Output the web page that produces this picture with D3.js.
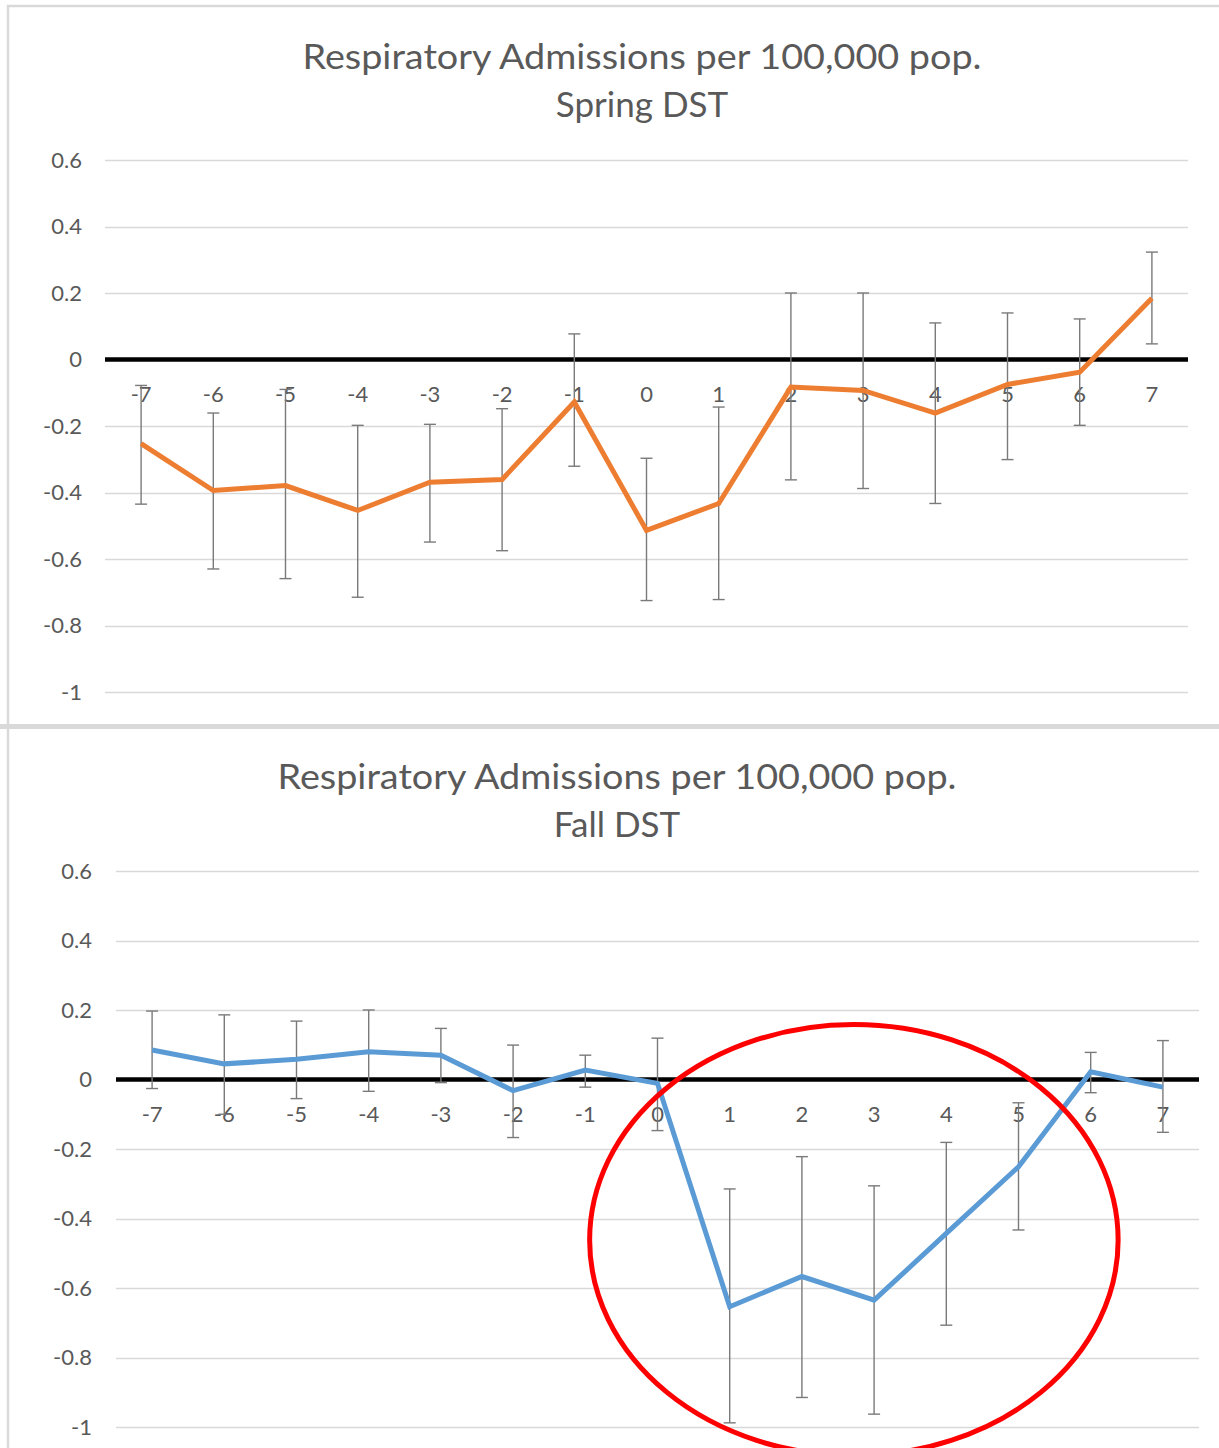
<!DOCTYPE html>
<html>
<head>
<meta charset="utf-8">
<script src="https://cdn.jsdelivr.net/npm/d3@7"></script>
<style>
  html, body { margin: 0; padding: 0; background: #fff; }
  svg { display: block; }
</style>
</head>
<body>
<svg id="chart" width="1219" height="1448"></svg>
<script>
// days relative to the DST change
const days = [-7, -6, -5, -4, -3, -2, -1, 0, 1, 2, 3, 4, 5, 6, 7]
const yTicks = [0.6, 0.4, 0.2, 0, -0.2, -0.4, -0.6, -0.8, -1]

const springMean = [-0.253, -0.394, -0.379, -0.454, -0.369, -0.361, -0.128, -0.514, -0.433, -0.083, -0.093, -0.161, -0.075, -0.038, 0.184]
const springLow = [-0.435, -0.63, -0.659, -0.715, -0.549, -0.575, -0.321, -0.725, -0.722, -0.362, -0.388, -0.433, -0.301, -0.198, 0.047]
const springHigh = [-0.078, -0.161, -0.09, -0.198, -0.195, -0.148, 0.077, -0.297, -0.143, 0.2, 0.2, 0.11, 0.14, 0.122, 0.323]

const fallMean = [0.085, 0.045, 0.058, 0.08, 0.07, -0.032, 0.027, -0.011, -0.654, -0.567, -0.635, -0.443, -0.251, 0.022, -0.022]
const fallLow = [-0.026, -0.1, -0.055, -0.034, -0.009, -0.167, -0.022, -0.147, -0.988, -0.915, -0.963, -0.707, -0.433, -0.038, -0.152]
const fallHigh = [0.197, 0.186, 0.168, 0.2, 0.147, 0.099, 0.07, 0.119, -0.315, -0.222, -0.306, -0.181, -0.067, 0.078, 0.112]

const titleLine1 = 'Respiratory Admissions per 100,000 pop.'

const COLORS = {
  text: '#595959',
  grid: '#d9d9d9',
  errbar: '#7a7a7a',
  spring: '#ed7d31',
  fall: '#5b9bd5',
  ring: '#ff0000',
}
const FONT = 'Lato, "Open Sans", sans-serif'

const svg = d3.select('#chart')

// panel frames
svg.append('rect').attr('x', 8).attr('y', 6).attr('width', 1230).attr('height', 720)
  .attr('fill', '#fff').attr('stroke', COLORS.grid).attr('stroke-width', 2.5)
svg.append('rect').attr('x', 8).attr('y', 727).attr('width', 1230).attr('height', 740)
  .attr('fill', '#fff').attr('stroke', COLORS.grid).attr('stroke-width', 2.5)
svg.append('rect').attr('x', 0).attr('y', 724).attr('width', 1219).attr('height', 5).attr('fill', COLORS.grid)

function drawPanel(opts) {
  const { mean, low, high, color } = opts
  const x = d3.scaleBand().domain(days).range(opts.xRange)
  const y = d3.scaleLinear().domain([-1, 0.6]).range(opts.yRange)
  const cx = (d) => x(d) + x.bandwidth() / 2
  const g = svg.append('g')

  // title
  const title = g.append('text')
    .attr('text-anchor', 'middle')
    .attr('font-family', FONT)
    .attr('font-size', 35)
    .attr('fill', COLORS.text)
  title.append('tspan').attr('x', opts.titleX).attr('y', opts.titleY)
    .attr('textLength', 679).attr('lengthAdjust', 'spacingAndGlyphs').text(titleLine1)
  title.append('tspan').attr('x', opts.titleX).attr('y', opts.titleY + 48).text(opts.subtitle)

  // gridlines
  g.append('g')
    .selectAll('line')
    .data(yTicks.filter((t) => t !== 0))
    .join('line')
    .attr('x1', opts.xRange[0]).attr('x2', opts.xRange[1])
    .attr('y1', (d) => Math.round(y(d)) + 0.5).attr('y2', (d) => Math.round(y(d)) + 0.5)
    .attr('stroke', COLORS.grid).attr('stroke-width', 1.3)

  // y axis labels (plain hyphen minus, as in the source)
  const yAxis = g.append('g')
    .attr('transform', `translate(${opts.yLabelX},0)`)
    .call(d3.axisLeft(y).tickValues(yTicks).tickSize(0).tickPadding(0).tickFormat((d) => String(d)))
  yAxis.select('.domain').remove()
  yAxis.selectAll('text').attr('font-family', FONT).attr('font-size', 22).attr('fill', COLORS.text)

  // x axis labels along zero line
  const xAxis = g.append('g')
    .attr('transform', `translate(0,${y(0)})`)
    .call(d3.axisBottom(x).tickSize(0).tickPadding(27))
  xAxis.select('.domain').remove()
  xAxis.selectAll('text').attr('font-family', FONT).attr('font-size', 22).attr('fill', COLORS.text)

  // zero line
  g.append('line')
    .attr('x1', opts.xRange[0]).attr('x2', opts.xRange[1])
    .attr('y1', y(0)).attr('y2', y(0))
    .attr('stroke', '#000').attr('stroke-width', 4.5)

  // error bars
  const bars = g.append('g')
    .attr('stroke', COLORS.errbar).attr('stroke-width', 1.4)
    .selectAll('g')
    .data(days.map((d, i) => ({ d, lo: low[i], hi: high[i] })))
    .join('g')
  bars.append('line')
    .attr('x1', (e) => cx(e.d)).attr('x2', (e) => cx(e.d))
    .attr('y1', (e) => y(e.lo)).attr('y2', (e) => y(e.hi))
  bars.append('line')
    .attr('x1', (e) => cx(e.d) - 6).attr('x2', (e) => cx(e.d) + 6)
    .attr('y1', (e) => y(e.lo)).attr('y2', (e) => y(e.lo))
  bars.append('line')
    .attr('x1', (e) => cx(e.d) - 6).attr('x2', (e) => cx(e.d) + 6)
    .attr('y1', (e) => y(e.hi)).attr('y2', (e) => y(e.hi))

  // series line
  const line = d3.line().x((d) => cx(d[0])).y((d) => y(d[1]))
  g.append('path')
    .datum(days.map((d, i) => [d, mean[i]]))
    .attr('d', line)
    .attr('fill', 'none')
    .attr('stroke', color)
    .attr('stroke-width', 5)
    .attr('stroke-linejoin', 'miter')

  return { x, y, cx, g }
}

drawPanel({
  mean: springMean, low: springLow, high: springHigh, color: COLORS.spring,
  xRange: [105, 1188], yRange: [692, 160],
  yLabelX: 82, titleX: 642, titleY: 69, subtitle: 'Spring DST',
})

const fall = drawPanel({
  mean: fallMean, low: fallLow, high: fallHigh, color: COLORS.fall,
  xRange: [116, 1199], yRange: [1427, 871],
  yLabelX: 92, titleX: 617, titleY: 789, subtitle: 'Fall DST',
})

// red annotation ring around days 0..6 in the fall panel
const ringCenter = { day: 2, shift: 0.72, value: -0.462 }
const ringRx = (fall.cx(6) - fall.cx(2)) * 0.915
const ringRy = fall.y(-0.62) - fall.y(0)
fall.g.append('ellipse')
  .attr('cx', fall.cx(ringCenter.day) + ringCenter.shift * fall.x.step())
  .attr('cy', fall.y(ringCenter.value))
  .attr('rx', ringRx)
  .attr('ry', ringRy)
  .attr('fill', 'none')
  .attr('stroke', COLORS.ring)
  .attr('stroke-width', 5)
</script>
</body>
</html>
